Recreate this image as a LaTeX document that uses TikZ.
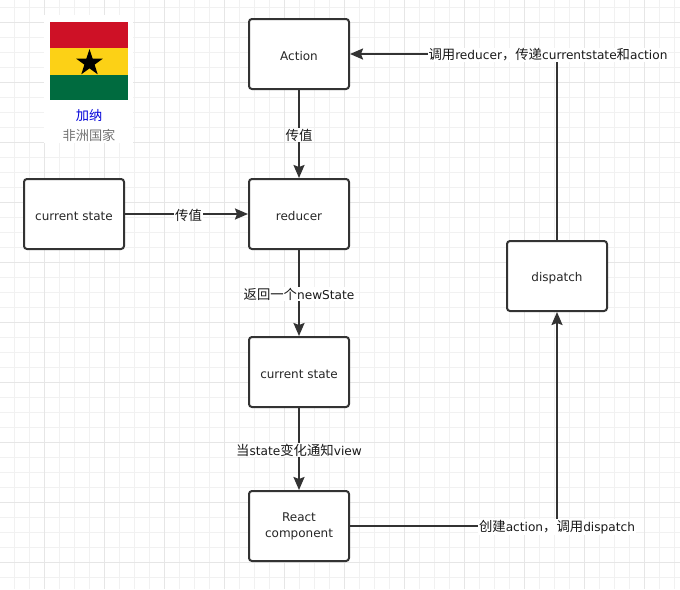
\documentclass[tikz,border=0pt]{standalone}
\usepackage{fontspec}
\setmainfont{DejaVu Sans}
\newfontfamily\cjk[Scale=1.1]{Noto Sans CJK SC}
\usetikzlibrary{arrows.meta, shapes.geometric}
\definecolor{linegray}{HTML}{333333}
\definecolor{minorgrid}{HTML}{F1F1F1}
\definecolor{majorgrid}{HTML}{E6E6E6}
\definecolor{flagred}{HTML}{CE1126}
\definecolor{flagyellow}{HTML}{FCD116}
\definecolor{flaggreen}{HTML}{006B3F}
\tikzset{
    box/.style={draw=linegray, line width=2pt, rounded corners=3pt, fill=white, minimum width=100pt, minimum height=70pt, inner sep=0pt, align=center, text=black!85, font=\fontsize{12}{16}\selectfont, execute at begin node={\rule{0pt}{13pt}}},
    conn/.style={draw=linegray, line width=2pt, -{Stealth[length=13pt,width=11pt,inset=2pt]}},
    lbl/.style={fill=white, inner sep=1pt, yshift=-1pt, text=black!90, font=\fontsize{12.15}{14}\selectfont}
}
\begin{document}
\begin{tikzpicture}[x=1pt,y=-1pt]
        \useasboundingbox (0,0) rectangle (680,589);
        \fill[white] (0,0) rectangle (680,589);

        % Draw the background grid
        \foreach \gx in {14.5,29.5,...,680} \draw[minorgrid] (\gx,0) -- (\gx,589);
        \foreach \gy in {7,22,...,589} \draw[minorgrid] (0,\gy) -- (680,\gy);
        \foreach \gx in {44.5,104.5,...,680} \draw[majorgrid] (\gx,0) -- (\gx,589);
        \foreach \gy in {22,82,...,589} \draw[majorgrid] (0,\gy) -- (680,\gy);

        % Draw the flag with its caption
        \fill[white] (44,15) rectangle (133,143);
        \fill[flagred] (50,22) rectangle (128,48);
        \fill[flagyellow] (50,48) rectangle (128,75);
        \fill[flaggreen] (50,75) rectangle (128,100);
        \node[star, star points=5, star point ratio=2.6, fill=black, inner sep=0pt, minimum size=28pt] (flagstar) at (89.5,63) {};
        \node[text=blue!85!black, font=\fontsize{12}{14}\selectfont, inner sep=0pt] (country) at (89,115) {\cjk 加纳};
        \node[text=black!55, font=\fontsize{12}{15}\selectfont, inner sep=0pt] (continent) at (89,135) {\cjk 非洲国家};

        % Draw the boxes
        \node[box] (action) at (299,54) {Action};
        \node[box] (oldstate) at (74,214) {current state};
        \node[box] (reducer) at (299,214) {reducer};
        \node[box] (newstate) at (299,372) {current state};
        \node[box] (react) at (299,526) {React\\component};
        \node[box] (dispatch) at (557,276) {dispatch};

        % Draw the connectors
        \draw[conn] (action) -- node[lbl] {\cjk 传值} (reducer);
        \draw[conn] (oldstate) -- node[lbl, xshift=2pt] {\cjk 传值} (reducer);
        \draw[conn] (reducer) -- node[lbl] {{\cjk 返回一个}newState} (newstate);
        \draw[conn] (newstate) -- node[lbl] {{\cjk 当}state{\cjk 变化通知}view} (react);
        \draw[conn] (react) -| node[lbl] {{\cjk 创建}action{\cjk ，调用}dispatch} (dispatch);
        \draw[conn] (dispatch) |- node[lbl, xshift=-9pt] {{\cjk 调用}reducer{\cjk ，传递}currentstate{\cjk 和}action} (action);
    \end{tikzpicture}
\end{document}
